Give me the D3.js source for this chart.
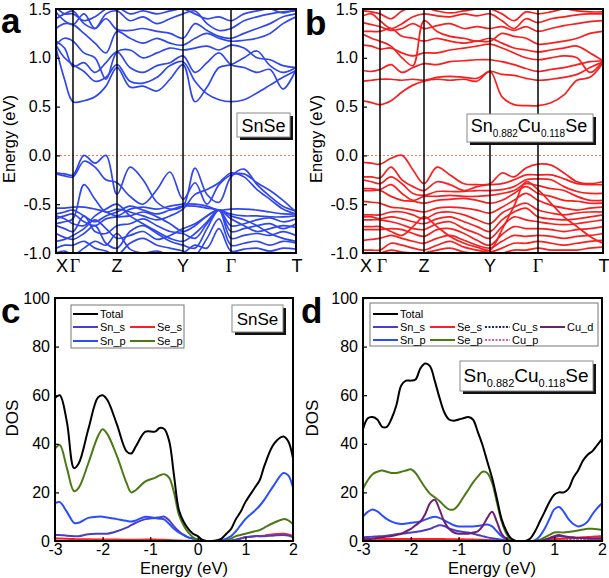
<!DOCTYPE html>
<html><head><meta charset="utf-8">
<script src="https://cdn.jsdelivr.net/npm/d3@7"></script>
<style>body{margin:0;background:#fff}svg{display:block}</style>
</head><body>
<svg id="c" width="609" height="578"></svg>
<script>
// ---------- DATA ----------
const kpts = [0,0.0354,0.0708,0.1167,0.1625,0.2083,0.2542,0.3083,0.3625,0.4208,0.475,0.5292,0.5792,0.6292,0.6792,0.7292,0.7833,0.8375,0.8917,0.9458,1];
const symK = [0,0.0708,0.2542,0.5292,0.7292,1];
const symLabels = ["X","Γ","Z","Y","Γ","T"];
const energyTicks = [-1.0,-0.5,0.0,0.5,1.0,1.5];

// SnSe bands (eV at kpts)
const bandsA = [
 [1.10,0.78,0.55,0.56,0.60,0.71,0.90,0.70,0.71,0.66,0.78,0.93,0.55,0.70,0.90,0.93,1.00,1.07,0.92,0.85,0.90],
 [1.13,1.00,0.93,0.86,0.76,0.80,0.93,0.76,0.74,0.80,0.92,0.96,0.76,0.63,0.57,0.55,0.57,0.64,0.72,0.80,0.87],
 [1.17,1.10,0.91,0.95,0.85,0.95,1.06,0.90,0.85,0.92,0.95,1.02,0.85,0.95,1.05,0.93,0.90,0.85,0.88,0.68,0.88],
 [1.13,1.20,1.17,1.05,1.00,0.78,1.06,1.08,1.00,1.05,1.10,1.08,1.10,1.12,1.08,1.13,1.10,1.00,0.98,0.92,0.90],
 [1.30,1.35,1.34,1.25,1.15,1.05,1.27,1.20,1.15,1.20,1.15,1.13,1.20,1.25,1.20,1.17,1.18,1.20,1.25,1.35,1.42],
 [1.40,1.45,1.48,1.35,1.30,1.40,1.29,1.28,1.30,1.27,1.25,1.20,1.35,1.28,1.22,1.20,1.25,1.30,1.35,1.42,1.45],
 [1.47,1.38,1.34,1.45,1.30,1.45,1.48,1.38,1.42,1.35,1.40,1.45,1.48,1.35,1.28,1.30,1.38,1.42,1.45,1.47,1.48],
 [1.52,1.45,1.45,1.38,1.42,1.50,1.52,1.45,1.48,1.45,1.48,1.50,1.45,1.40,1.42,1.38,1.45,1.48,1.50,1.46,1.50],
 [-0.18,-0.19,-0.20,0.00,-0.08,0.00,-0.40,-0.12,-0.25,-0.48,-0.55,-0.52,-0.13,-0.40,-0.48,-0.22,-0.14,-0.30,-0.42,-0.52,-0.57],
 [-0.19,-0.21,-0.22,-0.06,-0.12,-0.25,-0.28,-0.42,-0.50,-0.35,-0.17,-0.45,-0.28,-0.50,-0.30,-0.20,-0.19,-0.28,-0.36,-0.46,-0.58],
 [-0.54,-0.54,-0.53,-0.53,-0.55,-0.58,-0.62,-0.55,-0.53,-0.55,-0.52,-0.50,-0.50,-0.52,-0.56,-0.55,-0.55,-0.56,-0.58,-0.60,-0.60],
 [-0.60,-0.58,-0.56,-0.62,-0.68,-0.62,-0.58,-0.52,-0.56,-0.60,-0.56,-0.52,-0.52,-0.54,-0.56,-0.60,-0.62,-0.62,-0.63,-0.63,-0.62],
 [-0.65,-0.62,-0.60,-0.68,-0.72,-0.65,-0.63,-0.62,-0.58,-0.63,-0.70,-0.78,-0.72,-0.62,-0.56,-0.72,-0.70,-0.66,-0.64,-0.68,-0.65],
 [-0.72,-0.75,-0.78,-0.62,-0.78,-0.80,-0.72,-0.70,-0.65,-0.72,-0.78,-0.80,-0.85,-0.70,-0.56,-0.78,-0.75,-0.72,-0.70,-0.75,-0.70],
 [-0.80,-0.84,-0.86,-0.80,-0.72,-0.90,-0.95,-0.78,-0.72,-0.80,-0.88,-0.92,-0.95,-0.75,-0.56,-0.85,-0.82,-0.80,-0.82,-0.78,-0.82],
 [-0.95,-0.92,-0.92,-0.88,-0.95,-0.98,-1.02,-0.90,-0.85,-0.92,-0.95,-0.98,-1.02,-0.85,-0.65,-0.92,-0.90,-0.88,-0.92,-0.88,-0.90],
 [-1.00,-0.98,-1.02,-0.95,-0.88,-0.92,-0.80,-0.96,-1.00,-0.98,-1.02,-1.00,-0.92,-0.95,-0.75,-0.98,-0.96,-0.95,-0.98,-0.95,-0.96],
 [-0.70,-0.68,-0.65,-0.30,-0.45,-0.58,-0.55,-0.58,-0.62,-0.66,-0.62,-0.55,-0.40,-0.35,-0.28,-0.18,-0.22,-0.35,-0.45,-0.55,-0.60],
 [-0.88,-0.86,-0.82,-0.75,-0.66,-0.75,-0.85,-0.82,-0.78,-0.86,-0.82,-0.75,-0.70,-0.62,-0.56,-0.65,-0.72,-0.78,-0.75,-0.72,-0.74],
 [-0.62,-0.65,-0.70,-0.72,-0.62,-0.55,-0.50,-0.62,-0.70,-0.78,-0.85,-0.88,-0.80,-0.68,-0.56,-0.62,-0.66,-0.72,-0.80,-0.85,-0.88]
];

// Sn0.882Cu0.118Se bands (eV at kpts)
const bandsB = [
 [0.56,0.54,0.52,0.56,0.65,0.72,0.76,0.78,0.77,0.78,0.76,0.86,0.60,0.52,0.51,0.51,0.54,0.62,0.77,0.80,0.95],
 [0.76,0.77,0.78,0.78,0.77,0.78,0.77,0.80,0.81,0.80,0.79,0.86,0.83,0.82,0.79,0.77,0.78,0.80,0.83,0.90,0.96],
 [0.87,0.86,0.88,0.93,0.85,0.90,0.94,0.93,0.96,0.97,0.98,0.98,0.96,0.93,0.89,0.86,0.88,0.90,0.93,0.96,0.97],
 [1.13,1.12,1.09,1.10,1.05,1.02,1.05,1.05,1.08,1.10,1.12,1.14,1.10,1.05,1.00,0.98,1.00,1.02,1.00,0.85,0.97],
 [1.24,1.20,1.17,1.12,1.00,0.92,1.38,1.27,1.22,1.20,1.17,1.20,1.15,1.10,1.08,1.06,1.08,1.10,1.12,1.05,0.97],
 [1.27,1.27,1.27,1.30,1.22,1.20,1.17,1.20,1.17,1.15,1.17,1.17,1.25,1.22,1.20,1.14,1.15,1.17,1.20,1.25,1.27],
 [1.36,1.34,1.32,1.28,1.30,1.35,1.30,1.33,1.35,1.30,1.32,1.30,1.32,1.28,1.32,1.27,1.30,1.33,1.35,1.37,1.38],
 [1.43,1.45,1.38,1.30,1.35,1.42,1.45,1.43,1.42,1.45,1.43,1.45,1.38,1.30,1.40,1.36,1.40,1.42,1.44,1.45,1.45],
 [1.48,1.47,1.45,1.40,1.48,1.52,1.52,1.48,1.46,1.48,1.50,1.50,1.45,1.38,1.47,1.45,1.47,1.50,1.48,1.47,1.47],
 [-0.07,-0.08,-0.09,-0.03,0.00,-0.15,-0.29,-0.12,-0.20,-0.29,-0.30,-0.29,-0.18,-0.22,-0.13,-0.09,-0.10,-0.18,-0.27,-0.29,-0.27],
 [-0.22,-0.22,-0.23,-0.12,-0.25,-0.32,-0.36,-0.27,-0.30,-0.36,-0.32,-0.30,-0.29,-0.25,-0.20,-0.20,-0.20,-0.24,-0.29,-0.30,-0.30],
 [-0.25,-0.27,-0.29,-0.22,-0.29,-0.39,-0.41,-0.37,-0.37,-0.37,-0.36,-0.36,-0.35,-0.32,-0.25,-0.24,-0.25,-0.32,-0.37,-0.39,-0.39],
 [-0.34,-0.34,-0.35,-0.30,-0.39,-0.46,-0.42,-0.42,-0.41,-0.42,-0.42,-0.41,-0.39,-0.36,-0.29,-0.31,-0.34,-0.36,-0.42,-0.46,-0.46],
 [-0.36,-0.36,-0.36,-0.42,-0.46,-0.47,-0.49,-0.46,-0.45,-0.44,-0.46,-0.49,-0.46,-0.39,-0.32,-0.39,-0.42,-0.46,-0.47,-0.49,-0.49],
 [-0.47,-0.48,-0.49,-0.53,-0.54,-0.56,-0.58,-0.54,-0.53,-0.54,-0.56,-0.59,-0.53,-0.46,-0.39,-0.46,-0.51,-0.54,-0.56,-0.54,-0.53],
 [-0.61,-0.61,-0.61,-0.58,-0.58,-0.61,-0.65,-0.59,-0.58,-0.61,-0.66,-0.70,-0.59,-0.53,-0.49,-0.56,-0.59,-0.61,-0.59,-0.58,-0.58],
 [-0.63,-0.63,-0.65,-0.63,-0.65,-0.68,-0.70,-0.65,-0.63,-0.68,-0.73,-0.78,-0.66,-0.58,-0.54,-0.63,-0.65,-0.66,-0.65,-0.63,-0.61],
 [-0.66,-0.66,-0.66,-0.68,-0.71,-0.75,-0.76,-0.70,-0.68,-0.75,-0.80,-0.85,-0.73,-0.63,-0.66,-0.68,-0.70,-0.71,-0.70,-0.68,-0.66],
 [-0.76,-0.76,-0.76,-0.75,-0.76,-0.80,-0.83,-0.76,-0.75,-0.80,-0.87,-0.92,-0.81,-0.73,-0.75,-0.75,-0.76,-0.78,-0.76,-0.75,-0.73],
 [-0.87,-0.86,-0.85,-0.82,-0.85,-0.88,-0.90,-0.85,-0.82,-0.87,-0.92,-0.95,-0.88,-0.82,-0.83,-0.82,-0.83,-0.85,-0.83,-0.82,-0.80],
 [-0.97,-0.97,-0.97,-0.90,-0.92,-0.95,-0.97,-0.92,-0.88,-0.94,-0.97,-0.99,-0.95,-0.90,-0.90,-0.88,-0.90,-0.92,-0.90,-0.88,-0.87],
 [-1.00,-1.00,-1.00,-0.97,-0.99,-1.00,-1.00,-0.97,-0.95,-0.99,-1.00,-1.00,-1.00,-0.97,-0.97,-0.95,-0.97,-0.97,-0.97,-0.95,-0.94],
 [-0.73,-0.73,-0.73,-0.78,-0.82,-0.73,-0.63,-0.73,-0.83,-0.90,-0.94,-0.97,-0.76,-0.52,-0.27,-0.35,-0.49,-0.63,-0.73,-0.83,-0.90]
];

// DOS data
const dosTicks = [0,20,40,60,80,100];
const dosETicks = [-3,-2,-1,0,1,2];
const energyC = [-3,-2.9,-2.75,-2.6,-2.5,-2.3,-2.1,-2,-1.9,-1.7,-1.5,-1.4,-1.3,-1.1,-0.9,-0.8,-0.7,-0.6,-0.5,-0.4,-0.3,-0.2,-0.1,0,0.1,0.2,0.3,0.4,0.5,0.6,0.7,0.8,0.9,1,1.2,1.3,1.4,1.6,1.8,1.9,2];
const totalC = [58.8,60,49,30,32,46,59,60,58,48,37,36,39,45,45,46.5,46,41,27,13,8,5,3,2,0.4,0,0,0.3,1,3,5,9,12,16,22,25,31,40,43,41,34];
const sepC   = [38,39.5,30,20.5,22,32,43,46,44,35,24,20,21,24.5,26,27,27.5,26,20,11,6.5,3.5,1.5,0.5,0,0,0,0,0,0.3,1,2,2.5,3,4,4.5,5.5,7.5,9,8.5,7];
const snpC   = [15.5,16,12,7.5,7.5,9.5,10,10,9.7,9,8.3,8,8.5,10,9.5,9.2,8.8,7,5,3.5,2.5,1.5,1,0.5,0,0,0,0,0.3,1,2,4,6.5,9,12.5,14.5,17,23,28,27,22];
const snsC   = [2.5,2.5,2.2,2,2,2.8,3,3,3,4,5.5,6.5,7.5,9,9.5,9.8,10,8.5,6,4,2.5,1.5,1,0.5,0.1,0,0,0,0,0,0.2,0.5,1,1.5,2,2,2,2.3,2.5,2.2,1.5];
const sesC   = [1,1,0.9,0.8,0.7,0.7,0.6,0.6,0.6,0.6,0.5,0.5,0.5,0.6,0.6,0.5,0.5,0.4,0.3,0.2,0.1,0.1,0,0,0,0,0,0,0,0,0.1,0.5,1,1.5,2,2,2.2,2.8,3,2.7,2];

const energyD = [-3,-2.9,-2.8,-2.7,-2.6,-2.5,-2.4,-2.3,-2.2,-2.1,-2,-1.9,-1.8,-1.7,-1.6,-1.5,-1.4,-1.3,-1.2,-1.1,-1,-0.9,-0.8,-0.7,-0.6,-0.5,-0.4,-0.3,-0.2,-0.1,0,0.1,0.2,0.3,0.4,0.5,0.6,0.7,0.8,0.9,1,1.1,1.2,1.3,1.4,1.5,1.6,1.7,1.8,1.9,2];
const totalD = [46,50.5,51,50,47,47,50.5,56,64,66,66,66.5,71,73,72,66,59,53,50,49.5,50,50.5,51,50,45,39.5,32.7,26,17.6,9,4,1,0,0,0,1,4,8,12,16,19,20,20,21.5,26,29,33,35.5,37,39.5,42];
const sepD   = [21.5,25,27.5,28.5,29,28.5,28,28,28.5,29,29.5,28,25,22,19.5,18,16.5,14.5,13,13,15,18,21,24,26.5,28.5,28,24,16,8,3,0.5,0,0,0,0,0,0.5,1.5,2.5,3.5,3.6,3.5,3.7,4,4.3,4.7,5,5,4.8,4.5];
const snpD   = [10,12,13,12.2,10.5,9,8,7.3,7,7.2,7.5,7.7,8,8.8,9.5,10,9.5,8.5,7.5,6.5,6,6,6,6,6.2,6.5,6.8,6,4,2,0.8,0.2,0,0,0,0,0.3,2,5,9,13,14,12,9,7,6,6.5,8,11,13.5,15.5];
const cudD   = [0.5,0.7,1,1.2,1.5,1.8,2,2.5,3,4,5,6.5,8,11,15.5,17,13,8,5,3.5,3,3,3,3.5,4,6,9.5,12,8,3,1,0.2,0,0,0,0,0,0.2,0.5,1.2,2,2.5,2,1.7,1.5,1.3,1.2,1.1,1,1,1];
const snsD   = [1.5,1.6,1.8,1.9,2,2.2,2.5,2.8,3,3.2,3.5,3.7,4,4.5,5,5.8,6.5,6.2,5.2,4.5,4,3.7,3.5,3,2.5,2,1.5,1.1,0.8,0.5,0.3,0,0,0,0,0,0,0.2,0.5,1,1.5,2,1.8,1.5,1.3,1.2,1.2,1.1,1,1,1];
const sesD   = [0.9,0.9,0.9,0.9,0.9,0.8,0.8,0.8,0.8,0.8,0.8,0.8,0.8,0.8,0.8,0.8,0.8,0.8,0.7,0.7,0.7,0.7,0.6,0.6,0.5,0.5,0.4,0.3,0.2,0.1,0,0,0,0,0,0,0,0.2,0.4,0.6,0.8,0.9,1,1.1,1.2,1.3,1.5,1.6,1.8,1.9,2];
const cusD   = [0.3,0.3,0.3,0.3,0.3,0.3,0.3,0.3,0.3,0.3,0.3,0.3,0.3,0.3,0.3,0.3,0.3,0.3,0.3,0.3,0.3,0.3,0.3,0.3,0.3,0.3,0.2,0.2,0.1,0.1,0,0,0,0,0,0,0,0.1,0.2,0.3,0.4,0.5,0.4,0.4,0.3,0.3,0.3,0.3,0.3,0.3,0.3];
const cupD   = [0.6,0.6,0.6,0.6,0.6,0.6,0.6,0.6,0.6,0.6,0.6,0.6,0.6,0.6,0.6,0.6,0.6,0.6,0.6,0.6,0.6,0.6,0.6,0.6,0.6,0.5,0.5,0.4,0.3,0.2,0.1,0,0,0,0,0,0,0.1,0.3,0.5,0.7,0.8,0.7,0.6,0.6,0.6,0.6,0.6,0.6,0.6,0.6];

// ---------- DRAWING ----------
const FONT = "'Liberation Sans', Arial, Helvetica, sans-serif";
const svg = d3.select("#c").style("font-family", FONT);
let clipId = 0;

function shadowBox(g, x, y, w, h) {
  g.append("rect").attr("x", x+3).attr("y", y+3).attr("width", w).attr("height", h).attr("fill", "#111");
  g.append("rect").attr("x", x).attr("y", y).attr("width", w).attr("height", h)
    .attr("fill", "#fff").attr("stroke", "#888").attr("stroke-width", 1);
}
function formula(g, cx, base, size, sub) {
  const t = g.append("text").attr("x", cx).attr("y", base).attr("text-anchor", "middle")
    .style("font-size", size + "px").attr("fill", "#000");
  t.append("tspan").text("Sn");
  t.append("tspan").attr("dy", 5).style("font-size", sub + "px").text("0.882");
  t.append("tspan").attr("dy", -5).text("Cu");
  t.append("tspan").attr("dy", 5).style("font-size", sub + "px").text("0.118");
  t.append("tspan").attr("dy", -5).text("Se");
}

function bandPanel(o) {
  const g = svg.append("g");
  const x = d3.scaleLinear().domain([0, 1]).range([o.left, o.right]);
  const y = d3.scaleLinear().domain([-1.0, 1.5]).range([o.bottom, o.top]);
  const id = "clip" + (clipId++);
  g.append("clipPath").attr("id", id).append("rect")
    .attr("x", o.left).attr("y", o.top).attr("width", o.right - o.left).attr("height", o.bottom - o.top);
  // zero line
  g.append("line").attr("x1", o.left).attr("x2", o.right).attr("y1", Math.round(y(0)) + 0.5).attr("y2", Math.round(y(0)) + 0.5)
    .attr("stroke", "#f27a55").attr("stroke-width", 1).attr("stroke-dasharray", "2,2");
  // bands
  const line = d3.line().x((d, i) => x(kpts[i])).y(d => y(d)).curve(d3.curveCatmullRom.alpha(0.5));
  g.append("g").attr("clip-path", `url(#${id})`).selectAll("path").data(o.bands).join("path")
    .attr("d", line).attr("fill", "none").attr("stroke", o.color).attr("stroke-width", 1.7)
    .attr("stroke-linejoin", "round");
  // symmetry lines
  g.selectAll("line.sym").data(symK.slice(1, -1)).join("line").attr("class", "sym")
    .attr("x1", d => x(d)).attr("x2", d => x(d)).attr("y1", o.top).attr("y2", o.bottom)
    .attr("stroke", "#000").attr("stroke-width", 1.5);
  // axis
  const ax = g.append("g").attr("transform", `translate(${o.left},0)`)
    .call(d3.axisLeft(y).tickValues(energyTicks).tickSize(-4).tickPadding(5).tickFormat(d => d.toFixed(1)));
  ax.select(".domain").remove();
  ax.selectAll("line").attr("stroke", "#000").attr("stroke-width", 1.2);
  ax.selectAll("text").style("font-size", "16px").style("font-family", FONT).attr("fill", "#000");
  // frame
  g.append("rect").attr("x", o.left).attr("y", o.top).attr("width", o.right - o.left).attr("height", o.bottom - o.top)
    .attr("fill", "none").attr("stroke", "#000").attr("stroke-width", 2);
  // k labels
  g.selectAll("text.k").data(symK).join("text").attr("class", "k")
    .attr("x", (d, i) => x(d) + (i === 0 ? o.xOff : (i === 1 ? 2 : (i === 5 ? 1 : 0))))
    .attr("y", 272).attr("text-anchor", "middle")
    .style("font-family", (d, i) => symLabels[i] === "Γ" ? "'Liberation Serif', 'Times New Roman', serif" : FONT)
    .style("font-size", "18px").text((d, i) => symLabels[i]);
  // y label
  g.append("text").attr("transform", `translate(${o.ylx},139) rotate(-90)`).attr("text-anchor", "middle")
    .style("font-size", "16.5px").text("Energy (eV)");
  // letter
  g.append("text").attr("x", o.letX).attr("y", o.letY).style("font-size", "35px").style("font-weight", "bold")
    .text(o.letter);
  return g;
}

const gA = bandPanel({left: 56, right: 296, top: 9, bottom: 253, bands: bandsA, color: "#3147ee",
  xOff: 6, ylx: 15, letter: "a", letX: 1, letY: 33});
shadowBox(gA, 237, 113, 53, 24);
gA.append("text").attr("x", 263.5).attr("y", 131.5).attr("text-anchor", "middle").style("font-size", "18px").text("SnSe");

const gB = bandPanel({left: 363, right: 603, top: 9, bottom: 253, bands: bandsB, color: "#fa1e1e",
  xOff: 3, ylx: 322, letter: "b", letX: 305, letY: 35});
shadowBox(gB, 467, 114, 126, 28);
formula(gB, 529, 132, 18, 10);

function dosPanel(o) {
  const g = svg.append("g");
  const x = d3.scaleLinear().domain([-3, 2]).range([o.left, o.right]);
  const y = d3.scaleLinear().domain([0, 100]).range([o.bottom, o.top]);
  const id = "clip" + (clipId++);
  g.append("clipPath").attr("id", id).append("rect")
    .attr("x", o.left).attr("y", o.top).attr("width", o.right - o.left).attr("height", o.bottom - o.top + 1);
  const cg = g.append("g").attr("clip-path", `url(#${id})`);
  o.series.forEach(s => {
    const line = d3.line().x((d, i) => x(o.energy[i])).y(d => y(d)).curve(d3.curveCatmullRom.alpha(0.5));
    cg.append("path").datum(s.values).attr("d", line).attr("fill", "none").attr("stroke", s.color)
      .attr("stroke-width", s.w || 2).attr("stroke-dasharray", s.dash || null).attr("stroke-linejoin", "round");
  });
  const ay = g.append("g").attr("transform", `translate(${o.left},0)`)
    .call(d3.axisLeft(y).tickValues(dosTicks).tickSize(-4).tickPadding(5).tickFormat(d3.format("d")));
  ay.select(".domain").remove();
  const ax = g.append("g").attr("transform", `translate(0,${o.bottom})`)
    .call(d3.axisBottom(x).tickValues(dosETicks).tickSize(-4).tickPadding(3).tickFormat(d => d < 0 ? "-" + Math.abs(d) : String(d)));
  ax.select(".domain").remove();
  [ay, ax].forEach(a => {
    a.selectAll("line").attr("stroke", "#000").attr("stroke-width", 1.2);
    a.selectAll("text").style("font-size", "16px").style("font-family", FONT).attr("fill", "#000");
  });
  g.append("rect").attr("x", o.left).attr("y", o.top).attr("width", o.right - o.left).attr("height", o.bottom - o.top)
    .attr("fill", "none").attr("stroke", "#000").attr("stroke-width", 2);
  g.append("text").attr("x", o.xlx).attr("y", 574).attr("text-anchor", "middle").style("font-size", "16.5px").text("Energy (eV)");
  g.append("text").attr("transform", `translate(${o.ylx},418) rotate(-90)`).attr("text-anchor", "middle")
    .style("font-size", "17px").text("DOS");
  g.append("text").attr("x", o.letX).attr("y", 323).style("font-size", "35px").style("font-weight", "bold").text(o.letter);
  // legend
  const L = o.legend;
  g.append("rect").attr("x", L.x).attr("y", L.y).attr("width", L.w).attr("height", L.h)
    .attr("fill", "#fff").attr("stroke", "#777").attr("stroke-width", 1);
  L.items.forEach(it => {
    const s = o.series.find(d => d.name === it.name);
    const lx = L.cols[it.col], ly = L.rows[it.row];
    g.append("line").attr("x1", lx).attr("x2", lx + 25).attr("y1", ly).attr("y2", ly)
      .attr("stroke", s.color).attr("stroke-width", 2).attr("stroke-dasharray", s.dash || null);
    g.append("text").attr("x", lx + 27).attr("y", ly + 4).style("font-size", "11px").text(it.name);
  });
  return g;
}

const gC = dosPanel({
  left: 55, right: 293, top: 298, bottom: 541, energy: energyC, letter: "c", letX: 1, xlx: 184, ylx: 18,
  series: [
    {name: "Se_s", values: sesC, color: "#ff1f1f"},
    {name: "Sn_s", values: snsC, color: "#4a3fc6"},
    {name: "Sn_p", values: snpC, color: "#2a4dff"},
    {name: "Se_p", values: sepC, color: "#4b7a14"},
    {name: "Total", values: totalC, color: "#000"}
  ],
  legend: {x: 71, y: 305, w: 113, h: 43, cols: [73, 130], rows: [314, 327, 341],
    items: [{name: "Total", col: 0, row: 0}, {name: "Sn_s", col: 0, row: 1}, {name: "Se_s", col: 1, row: 1},
            {name: "Sn_p", col: 0, row: 2}, {name: "Se_p", col: 1, row: 2}]}
});
shadowBox(gC, 232, 305, 51, 27);
gC.append("text").attr("x", 257.5).attr("y", 325).attr("text-anchor", "middle").style("font-size", "17px").text("SnSe");

const gD = dosPanel({
  left: 363, right: 602, top: 298, bottom: 541, energy: energyD, letter: "d", letX: 301, xlx: 492, ylx: 318,
  series: [
    {name: "Cu_s", values: cusD, color: "#14208c", dash: "2,1.5"},
    {name: "Cu_p", values: cupD, color: "#e2569c", dash: "2,1.5", w: 1.5},
    {name: "Se_s", values: sesD, color: "#ff1f1f"},
    {name: "Sn_s", values: snsD, color: "#4a3fc6"},
    {name: "Sn_p", values: snpD, color: "#2a4dff"},
    {name: "Cu_d", values: cudD, color: "#6f1f6c"},
    {name: "Se_p", values: sepD, color: "#4b7a14"},
    {name: "Total", values: totalD, color: "#000"}
  ],
  legend: {x: 370, y: 303, w: 228, h: 43, cols: [373, 430, 485, 540], rows: [314, 327, 340],
    items: [{name: "Total", col: 0, row: 0}, {name: "Sn_s", col: 0, row: 1}, {name: "Se_s", col: 1, row: 1},
            {name: "Cu_s", col: 2, row: 1}, {name: "Cu_d", col: 3, row: 1},
            {name: "Sn_p", col: 0, row: 2}, {name: "Se_p", col: 1, row: 2}, {name: "Cu_p", col: 2, row: 2}]}
});
shadowBox(gD, 460, 361, 133, 30);
formula(gD, 526, 382, 19, 11);
</script>
</body></html>
